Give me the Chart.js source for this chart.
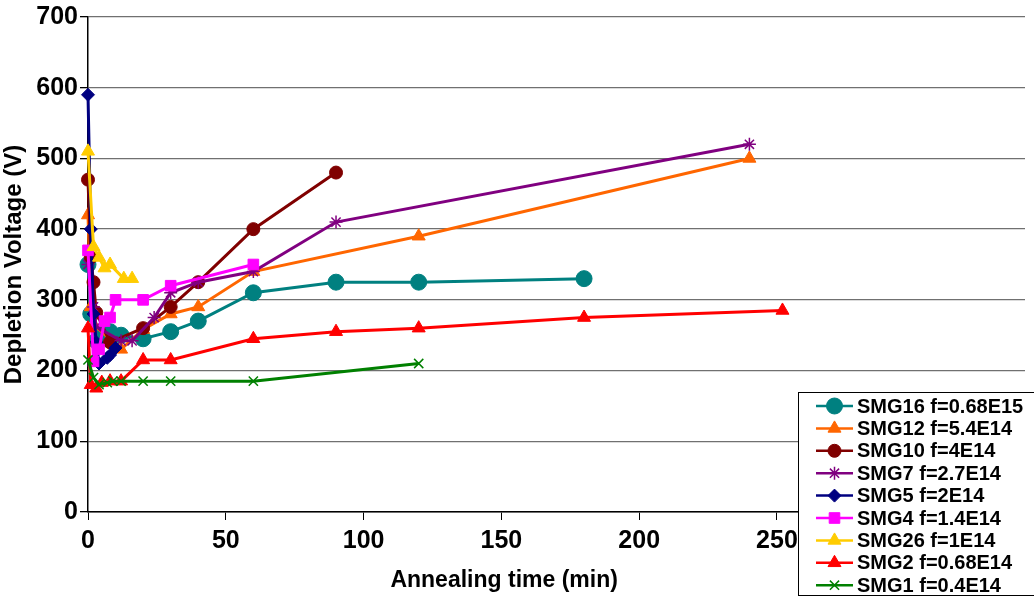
<!DOCTYPE html>
<html>
<head>
<meta charset="utf-8">
<script src="https://cdn.jsdelivr.net/npm/chart.js@4/dist/chart.umd.min.js"></script>
<style>
  body { margin: 0; background: #fff; }
  #wrap { width: 1034px; height: 597px; position: relative; }
</style>
</head>
<body>
<div id="wrap"><canvas id="annealChart"></canvas></div>
<script>
'use strict';
// annealing time (min) and depletion voltage (V) for each sample
var seriesNames = ['SMG16 f=0.68E15', 'SMG12 f=5.4E14', 'SMG10 f=4E14', 'SMG7 f=2.7E14', 'SMG5 f=2E14', 'SMG4 f=1.4E14', 'SMG26 f=1E14', 'SMG2 f=0.68E14', 'SMG1 f=0.4E14'];

var smg16Time = [0, 1, 3, 6, 8, 12, 20, 30, 40, 60, 90, 120, 180];
var smg16Volt = [350, 280, 242, 252, 255, 250, 245, 255, 270, 310, 325, 325, 330];

var smg12Time = [0, 1, 2, 12, 20, 30, 40, 60, 120, 240];
var smg12Volt = [420, 290, 265, 230, 258, 280, 290, 340, 390, 500];

var smg10Time = [0, 1, 2, 3, 8, 20, 30, 40, 60, 90];
var smg10Volt = [470, 360, 325, 282, 240, 260, 290, 325, 400, 480];

var smg7Time = [0, 2, 3, 12, 16, 24, 30, 40, 60, 90, 240];
var smg7Volt = [350, 290, 262, 242, 242, 275, 310, 325, 340, 410, 520];

var smg5Time = [0, 1, 2, 3, 4, 7, 8, 10];
var smg5Volt = [590, 400, 280, 240, 210, 218, 222, 232];

var smg4Time = [0, 2, 4, 6, 8, 10, 20, 30, 60];
var smg4Volt = [370, 213, 230, 270, 275, 300, 300, 320, 350];

var smg26Time = [0, 2, 4, 6, 8, 13, 16];
var smg26Volt = [510, 375, 360, 345, 350, 330, 330];

var smg2Time = [0, 1, 3, 5, 8, 12, 20, 30, 60, 90, 120, 180, 252];
var smg2Volt = [260, 180, 175, 183, 185, 185, 215, 215, 245, 255, 260, 275, 285];

var smg1Time = [0, 2, 4, 7, 9, 12, 20, 30, 60, 120];
var smg1Volt = [215, 190, 180, 183, 185, 185, 185, 185, 185, 210];

var xTicks = [0, 50, 100, 150, 200, 250, 300];
var yTicks = [0, 100, 200, 300, 400, 500, 600, 700];

var allTimes = [smg16Time, smg12Time, smg10Time, smg7Time, smg5Time, smg4Time, smg26Time, smg2Time, smg1Time];
var allVolts = [smg16Volt, smg12Volt, smg10Volt, smg7Volt, smg5Volt, smg4Volt, smg26Volt, smg2Volt, smg1Volt];

var colors = ['#008080', '#FF6600', '#800000', '#800080', '#000080', '#FF00FF', '#FFCC00', '#FF0000', '#008000'];
var markers = ['circle', 'triangle', 'circle', 'star', 'rectRot', 'rect', 'triangle', 'triangle', 'crossRot'];
var markerSizes = [8, 7.5, 6.5, 6.5, 6.5, 7.5, 7.5, 7.5, 6.5];

var fontName = '"Liberation Sans", Arial, sans-serif';

function makePoints(times, volts) {
  var pts = [];
  for (var i = 0; i < times.length; i++) {
    pts.push({ x: times[i], y: volts[i] });
  }
  return pts;
}

var datasets = [];
for (var i = 0; i < seriesNames.length; i++) {
  var lineOnly = markers[i] === 'star' || markers[i] === 'crossRot';
  datasets.push({
    label: seriesNames[i],
    data: makePoints(allTimes[i], allVolts[i]),
    borderColor: colors[i],
    backgroundColor: colors[i],
    pointBackgroundColor: colors[i],
    pointBorderColor: colors[i],
    pointStyle: markers[i],
    pointRadius: markerSizes[i],
    pointBorderWidth: lineOnly ? 1.5 : 1,
    borderWidth: 3,
    tension: 0,
    clip: false,
    order: seriesNames.length - i
  });
}

// the legend sits over the lower right corner of the plot, like the original
var boxLegend = {
  id: 'boxLegend',
  afterDraw: function (chart) {
    var ctx = chart.ctx;
    var left = 798;
    var top = 392;
    var bottom = 595;
    ctx.save();
    ctx.fillStyle = '#ffffff';
    ctx.fillRect(left, top, chart.width - left, bottom - top);
    ctx.strokeStyle = '#000000';
    ctx.lineWidth = 1;
    ctx.strokeRect(left + 0.5, top + 0.5, chart.width, bottom - top);
    chart.data.datasets.forEach(function (ds, k) {
      var y = top + 14 + k * 22.4;
      ctx.strokeStyle = ds.borderColor;
      ctx.lineWidth = 2.5;
      ctx.beginPath();
      ctx.moveTo(816, y);
      ctx.lineTo(853, y);
      ctx.stroke();
      ctx.fillStyle = ds.borderColor;
      ctx.lineWidth = ds.pointBorderWidth;
      Chart.helpers.drawPoint(ctx, {
        pointStyle: ds.pointStyle,
        radius: ds.pointRadius,
        borderWidth: ds.pointBorderWidth,
        rotation: 0
      }, 834.5, y);
      ctx.fillStyle = '#000000';
      ctx.font = 'bold 20px ' + fontName;
      ctx.textBaseline = 'middle';
      ctx.textAlign = 'left';
      ctx.fillText(ds.label, 857, y + 1);
    });
    ctx.restore();
  }
};

// x title drawn by hand so it sits where the original put it
var xTitle = {
  id: 'xTitle',
  afterDraw: function (chart) {
    var ctx = chart.ctx;
    var xs = chart.scales.x;
    ctx.save();
    ctx.fillStyle = '#000000';
    ctx.font = 'bold 23px ' + fontName;
    ctx.textAlign = 'center';
    ctx.textBaseline = 'alphabetic';
    ctx.fillText('Annealing time (min)', xs.getPixelForValue(151), 587);
    ctx.restore();
  }
};

var ctx = document.getElementById('annealChart').getContext('2d');
var chart = new Chart(ctx, {
  type: 'line',
  data: { datasets: datasets },
  options: {
    responsive: true,
    maintainAspectRatio: false,
    animation: false,
    devicePixelRatio: 1,
    layout: { padding: { top: 15, right: 0, left: 0, bottom: 0 } },
    plugins: {
      legend: { display: false },
      tooltip: { enabled: false }
    },
    scales: {
      x: {
        type: 'linear',
        min: 0,
        max: 340,
        afterBuildTicks: function (axis) {
          axis.ticks = xTicks.map(function (v) { return { value: v }; });
        },
        afterFit: function (scale) { scale.height = 85; },
        grid: {
          drawOnChartArea: false,
          drawTicks: true,
          tickLength: 8,
          tickColor: '#000000',
          tickWidth: 1
        },
        border: { color: '#000000', width: 1.5 },
        ticks: {
          color: '#000000',
          font: { family: fontName, size: 25, weight: 'bold' },
          padding: 6,
          maxRotation: 0
        }
      },
      y: {
        min: 0,
        max: 700,
        afterBuildTicks: function (axis) {
          axis.ticks = yTicks.map(function (v) { return { value: v }; });
        },
        afterFit: function (scale) { scale.width = 88; },
        grid: {
          color: '#707070',
          lineWidth: 1.3,
          tickLength: 8,
          tickColor: '#000000'
        },
        border: { color: '#000000', width: 1.5 },
        ticks: {
          color: '#000000',
          font: { family: fontName, size: 25, weight: 'bold' },
          padding: 2
        },
        title: {
          display: true,
          text: 'Depletion Voltage (V)',
          color: '#000000',
          font: { family: fontName, size: 24, weight: 'bold' },
          padding: { top: 0, bottom: 0 }
        }
      }
    }
  },
  plugins: [boxLegend, xTitle]
});
</script>
</body>
</html>
